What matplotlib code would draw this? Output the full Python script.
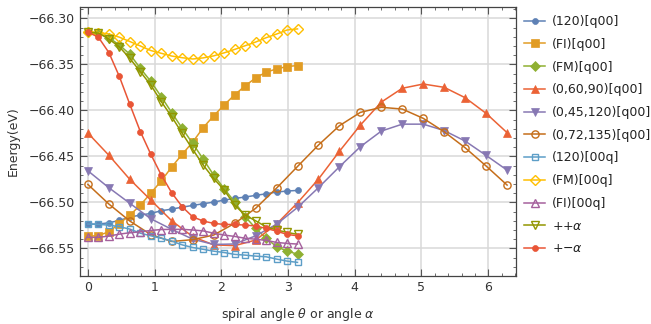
import numpy as np
import matplotlib
matplotlib.use("Agg")
import matplotlib.pyplot as plt
from matplotlib.ticker import MultipleLocator, FuncFormatter

# sampling of the two kinds of runs: 0..pi (21 pts) and 0..2pi (21 pts)
theta_half = np.linspace(0, np.pi, 21)
theta_full = np.linspace(0, 2 * np.pi, 21)

e_120_q00 = [-66.5236, -66.5236, -66.5222, -66.5196, -66.5160, -66.5138, -66.5120,
             -66.5091, -66.5073, -66.5052, -66.5033, -66.5015, -66.4997, -66.4975,
             -66.4957, -66.4942, -66.4924, -66.4907, -66.4888, -66.4877, -66.4870]
e_fi_q00 = [-66.5370, -66.5360, -66.5320, -66.5230, -66.5140, -66.5030, -66.4900,
            -66.4767, -66.4615, -66.4477, -66.4345, -66.4188, -66.4060, -66.3941,
            -66.3832, -66.3734, -66.3648, -66.3585, -66.3550, -66.3524, -66.3513]
e_fm_q00 = [-66.3150, -66.3160, -66.3210, -66.3290, -66.3390, -66.3543, -66.3685,
            -66.3852, -66.4025, -66.4196, -66.4360, -66.4530, -66.4703, -66.4850,
            -66.4995, -66.5155, -66.5280, -66.5390, -66.5480, -66.5530, -66.5562]
e_06090_q00 = [-66.4247, -66.4488, -66.4750, -66.4975, -66.5200, -66.5372, -66.5462,
               -66.5470, -66.5410, -66.5235, -66.5005, -66.4747, -66.4445, -66.4160,
               -66.3910, -66.3760, -66.3714, -66.3750, -66.3863, -66.4033, -66.4243]
e_045120_q00 = [-66.4657, -66.4841, -66.5010, -66.5178, -66.5293, -66.5400, -66.5457,
                -66.5452, -66.5364, -66.5238, -66.5055, -66.4840, -66.4613, -66.4395,
                -66.4225, -66.4150, -66.4150, -66.4220, -66.4334, -66.4490, -66.4650]
e_072135_q00 = [-66.4805, -66.5018, -66.5203, -66.5350, -66.5425, -66.5405, -66.5355,
                -66.5228, -66.5065, -66.4845, -66.4610, -66.4377, -66.4167, -66.4022,
                -66.3967, -66.3986, -66.4087, -66.4233, -66.4407, -66.4605, -66.4812]
e_120_00q = [-66.5236, -66.5239, -66.5247, -66.5265, -66.5290, -66.5335, -66.5363,
             -66.5390, -66.5420, -66.5462, -66.5490, -66.5510, -66.5530, -66.5545,
             -66.5565, -66.5573, -66.5584, -66.5591, -66.5616, -66.5638, -66.5652]
e_fm_00q = [-66.3150, -66.3155, -66.3170, -66.3205, -66.3252, -66.3300, -66.3350,
            -66.3380, -66.3410, -66.3428, -66.3442, -66.3430, -66.3408, -66.3375,
            -66.3338, -66.3298, -66.3258, -66.3211, -66.3171, -66.3127, -66.3115]
e_fi_00q = [-66.5380, -66.5380, -66.5366, -66.5345, -66.5330, -66.5320, -66.5305,
            -66.5295, -66.5293, -66.5293, -66.5300, -66.5310, -66.5335, -66.5355,
            -66.5370, -66.5390, -66.5400, -66.5413, -66.5435, -66.5446, -66.5453]
e_pp_alpha = [-66.3152, -66.3160, -66.3225, -66.3310, -66.3435, -66.3580, -66.3725,
              -66.3905, -66.4070, -66.4250, -66.4424, -66.4595, -66.4740, -66.4866,
              -66.5030, -66.5138, -66.5200, -66.5265, -66.5300, -66.5326, -66.5348]
e_pm_alpha = [-66.3150, -66.3205, -66.3372, -66.3632, -66.3935, -66.4230, -66.4477,
              -66.4703, -66.4896, -66.5048, -66.5157, -66.5203, -66.5228, -66.5240,
              -66.5240, -66.5247, -66.5256, -66.5283, -66.5312, -66.5348, -66.5363]

labels = ["(120)[q00]", "(FI)[q00]", "(FM)[q00]", "(0,60,90)[q00]", "(0,45,120)[q00]",
          "(0,72,135)[q00]", "(120)[00q]", "(FM)[00q]", "(FI)[00q]",
          r"++$\alpha$", r"+$-\alpha$"]

series = [
    (theta_half, e_120_q00, "#5E81B5", "o", True, 4.3),
    (theta_half, e_fi_q00, "#E19C24", "s", True, 5.2),
    (theta_half, e_fm_q00, "#8FB032", "D", True, 4.6),
    (theta_full, e_06090_q00, "#EB6235", "^", True, 6.0),
    (theta_full, e_045120_q00, "#8778B3", "v", True, 6.0),
    (theta_full, e_072135_q00, "#C56E1A", "o", False, 5.2),
    (theta_half, e_120_00q, "#5D9EC7", "s", False, 5.0),
    (theta_half, e_fm_00q, "#FFBF00", "D", False, 4.6),
    (theta_half, e_fi_00q, "#A5609D", "^", False, 6.0),
    (theta_half, e_pp_alpha, "#929600", "v", False, 6.0),
    (theta_half, e_pm_alpha, "#E95536", "o", True, 4.3),
]

fig = plt.figure(figsize=(6.51, 3.24), dpi=100)
ax = fig.add_axes([79.5 / 651, 48 / 324, 436 / 651, 269 / 324])

for (x, y, c, m, filled, ms), lab in zip(series, labels):
    ax.plot(x, y, color=c, lw=1.1, marker=m, ms=ms, label=lab,
            markerfacecolor=c if filled else "none",
            markeredgecolor=c, markeredgewidth=1.0 if not filled else 0.5)

ax.set_xlim(-0.126, 6.409)
ax.set_ylim(-66.580, -66.2877)

ax.xaxis.set_major_locator(MultipleLocator(1))
ax.xaxis.set_minor_locator(MultipleLocator(0.2))
ax.yaxis.set_major_locator(MultipleLocator(0.05))
ax.yaxis.set_minor_locator(MultipleLocator(0.01))
ax.yaxis.set_major_formatter(FuncFormatter(lambda v, p: ("%.2f" % v).replace("-", "\u2212")))
ax.tick_params(which="both", direction="in", top=True, right=True, colors="#555555",
               labelcolor="#333333", labelsize=9)
ax.tick_params(which="major", length=5, width=0.8)
ax.tick_params(which="minor", length=2.5, width=0.6)
ax.grid(True, which="major", color="#d8d8d8", lw=1.1)
ax.set_axisbelow(True)
for sp in ax.spines.values():
    sp.set_color("#444444")
    sp.set_linewidth(0.9)

ax.set_ylabel("Energy(eV)", fontsize=9, color="#333333", labelpad=6)
ax.set_xlabel(r"spiral angle $\theta$ or angle $\alpha$", fontsize=9, color="#333333",
              labelpad=9)

fig.legend(loc="upper left", bbox_to_anchor=(524 / 651, 1 - 15 / 324), frameon=False,
           fontsize=9, handlelength=1.7, handletextpad=0.5, labelspacing=0.78,
           borderpad=0, borderaxespad=0, labelcolor="#222222")

fig.savefig("out.png", dpi=100)
